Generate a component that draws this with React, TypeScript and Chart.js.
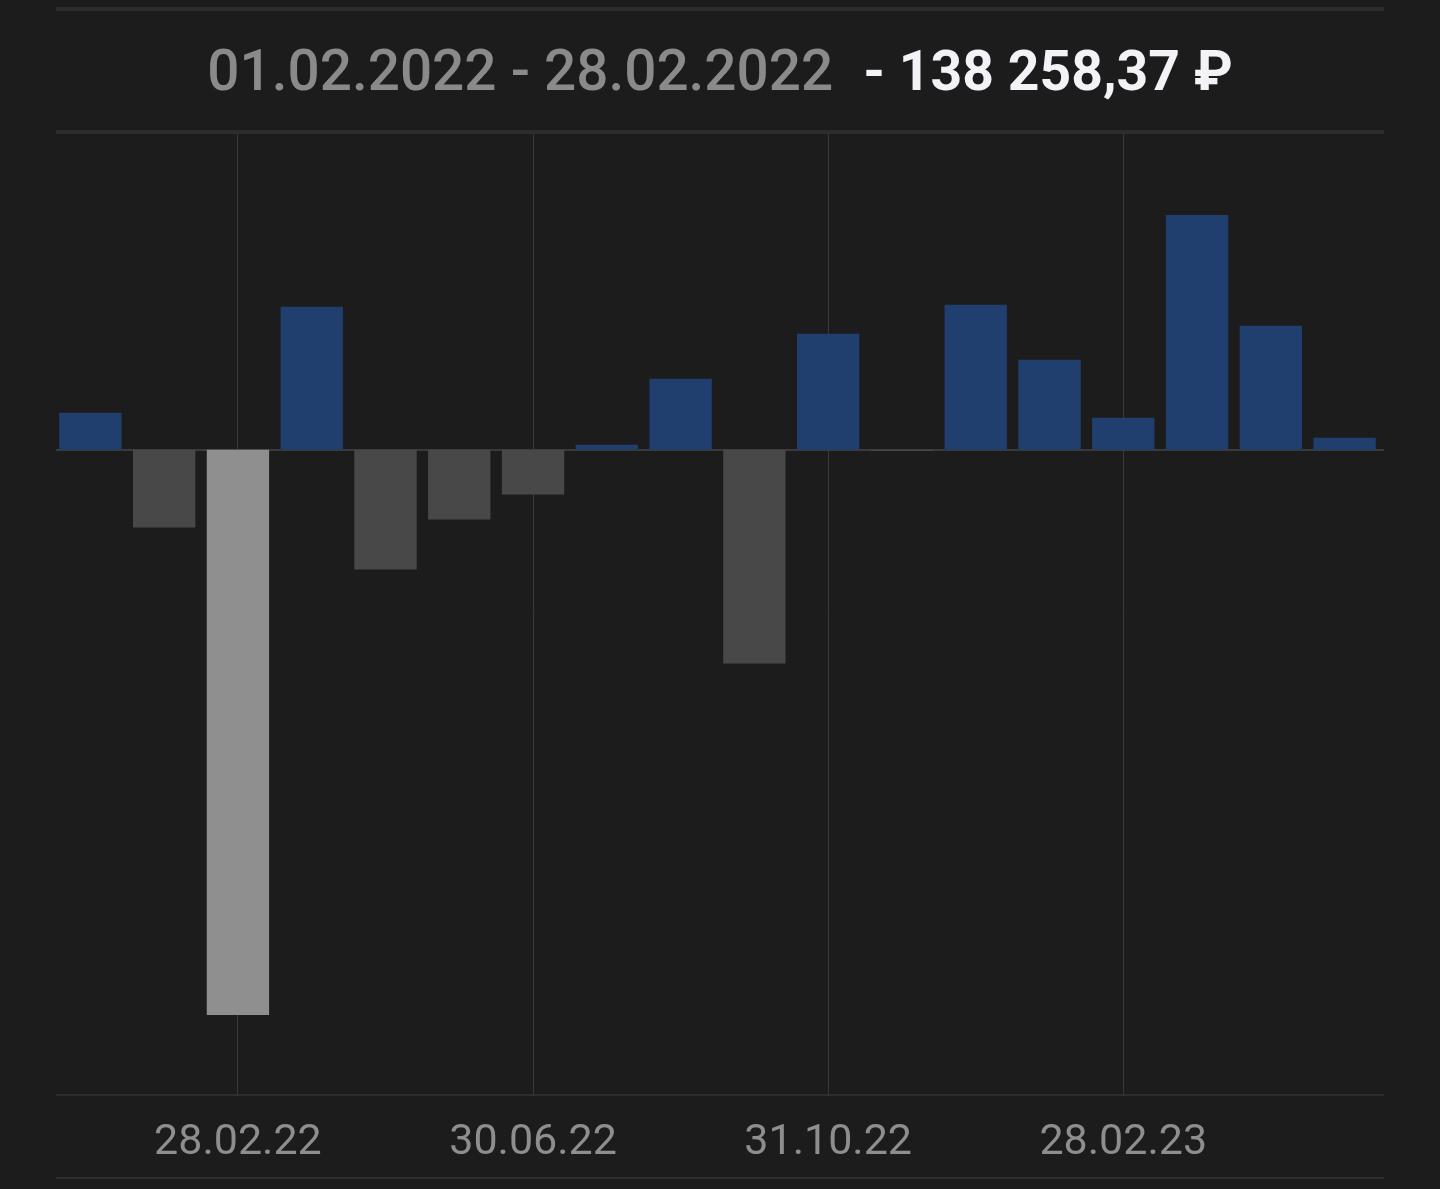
import React, { useEffect, useRef } from "react";
import { Chart, registerables } from "chart.js";

Chart.register(...registerables);

const monthEnds: string[] = [
  "31.12.21", "31.01.22", "28.02.22", "31.03.22", "30.04.22", "31.05.22",
  "30.06.22", "31.07.22", "31.08.22", "30.09.22", "31.10.22", "30.11.22",
  "31.12.22", "31.01.23", "28.02.23", "31.03.23", "30.04.23", "31.05.23",
];

const monthlyResult: number[] = [
  9040, -19050, -138258.37, 34930, -29310, -17100,
  -10990, 1220, 17340, -52270, 28340, -300,
  35420, 21980, 7820, 57400, 30290, 2930,
];

const selectedIndex = 2;
const labeledTickIndices: number[] = [2, 6, 10, 14];

const titlePeriod = "01.02.2022 - 28.02.2022";
const titleAmount = "- 138 258,37 ₽";

const yMin = -157800;
const yMax = 77190;

const BG = "#1c1c1c";
const FRAME = "#2d2d2d";
const GRID = "#3a3a3a";
const BLUE = "#213f6e";
const GRAY = "#484848";
const HIGHLIGHT = "#8f8f8f";

const framePlugin = {
  id: "frameLines",
  beforeDraw(chart: any) {
    const { ctx, chartArea } = chart;
    ctx.save();
    ctx.fillStyle = BG;
    ctx.fillRect(0, 0, chart.width, chart.height);
    ctx.fillStyle = FRAME;
    const l = 56;
    const w = 1328;
    ctx.fillRect(l, 7, w, 4);
    ctx.fillRect(l, 130, w, 4);
    ctx.fillRect(l, chartArea.bottom - 1, w, 2);
    ctx.fillRect(l, 1177, w, 2);
    ctx.restore();
  },
  beforeDatasetsDraw(chart: any) {
    const { ctx, scales } = chart;
    const y0 = scales.y.getPixelForValue(0);
    ctx.save();
    ctx.fillStyle = GRID;
    ctx.fillRect(56, Math.round(y0) - 1, 1328, 2);
    ctx.restore();
  },
};

export default function App() {
  const canvasRef = useRef<HTMLCanvasElement | null>(null);

  useEffect(() => {
    if (!canvasRef.current) return;
    const colors = monthlyResult.map((v, i) =>
      i === selectedIndex ? HIGHLIGHT : v >= 0 ? BLUE : GRAY
    );
    const chart = new Chart(canvasRef.current, {
      type: "bar",
      data: {
        labels: monthEnds,
        datasets: [
          {
            data: monthlyResult,
            backgroundColor: colors,
            borderWidth: 0,
            categoryPercentage: 1,
            barPercentage: 0.845,
          },
        ],
      },
      options: {
        responsive: false,
        animation: false,
        layout: { padding: { left: 53.5, right: 58.5, top: 134, bottom: 0 } },
        plugins: {
          legend: { display: false },
          tooltip: { enabled: false },
          title: { display: false },
        },
        scales: {
          x: {
            offset: true,
            afterFit: (scale: any) => {
              scale.height = 94;
            },
            grid: {
              offset: false,
              drawTicks: false,
              lineWidth: 1,
              color: (c: any) =>
                labeledTickIndices.includes(c.index) ? GRID : "rgba(0,0,0,0)",
            },
            border: { display: false },
            ticks: {
              autoSkip: false,
              maxRotation: 0,
              padding: 27,
              color: "#8e8e8e",
              font: { family: "Roboto", size: 43, lineHeight: 1.0 },
              callback: (_v: any, i: number) =>
                labeledTickIndices.includes(i) ? monthEnds[i] : "",
            },
          },
          y: {
            display: false,
            min: yMin,
            max: yMax,
          },
        },
      },
      plugins: [framePlugin],
    });
    return () => chart.destroy();
  }, []);

  return (
    <div
      style={{
        position: "fixed",
        left: 0,
        top: 0,
        width: 1440,
        height: 1189,
        background: BG,
        overflow: "hidden",
      }}
    >
      <canvas
        ref={canvasRef}
        width={1440}
        height={1189}
        style={{ position: "absolute", left: 0, top: 0, width: 1440, height: 1189 }}
      />
      <div
        style={{
          position: "absolute",
          left: 56,
          width: 1328,
          top: 36,
          textAlign: "center",
          fontFamily: "Roboto, sans-serif",
          lineHeight: "70px",
          whiteSpace: "nowrap",
        }}
      >
        <span style={{ color: "#8a8a8a", fontWeight: 500, fontSize: 56.7 }}>{titlePeriod}</span>
        <span style={{ color: "#f2f2f7", fontWeight: 700, fontSize: 55.3, marginLeft: 30 }}>{titleAmount}</span>
      </div>
    </div>
  );
}
